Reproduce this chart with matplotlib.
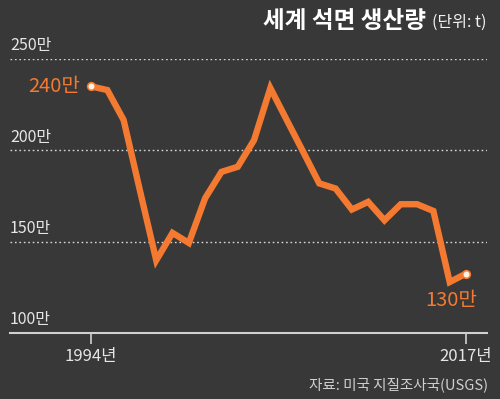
import matplotlib.pyplot as plt

# world asbestos production, unit: 10,000 t (만 t)
years = list(range(1994, 2018))
production = [235, 233, 216.6, 178, 139.8, 154.8, 149.3, 173.8, 188.2, 191,
              205.6, 234.1, 216.7, 199.4, 181.9, 179.1, 167.6, 171.8, 161.7,
              170.5, 170.5, 166.8, 127.9, 132.5]
y_ticks = [100, 150, 200, 250]
y_tick_labels = ["100만", "150만", "200만", "250만"]
x_ticks = [1994, 2017]
x_tick_labels = ["1994년", "2017년"]
start_label = "240만"
end_label = "130만"

bg = "#383838"
orange = "#f37a30"
light = "#e6e6e6"

plt.rcParams['font.family'] = ['Noto Sans CJK KR', 'DejaVu Sans']

fig = plt.figure(figsize=(5, 3.99), dpi=100, facecolor=bg)
ax = fig.add_axes([0.02, 1 - 333 / 399, 0.954, (333 - 59) / 399])
ax.set_facecolor(bg)

ax.set_xlim(1994 - 81 / 16.3, 2017 + 21 / 16.3)
ax.set_ylim(100, 250)

# dotted gridlines (not at the bottom, that one is the solid axis)
for v in y_ticks[1:]:
    ax.axhline(v, color="#d8d8d8", lw=1.0, ls=(0, (1.2, 2)), zorder=1)

for v, lab in zip(y_ticks, y_tick_labels):
    ax.text(0.0, v + 2.5, lab, transform=ax.get_yaxis_transform(),
            ha="left", va="bottom", color=light, fontsize=11.5, weight="light")

ax.plot(years, production, color=orange, lw=4.6, solid_joinstyle="miter",
        solid_capstyle="round", zorder=3, clip_on=False)
ax.plot([years[0], years[-1]], [production[0], production[-1]], "o",
        ms=5.5, mfc="#fff2e6", mec=orange, mew=1.2, zorder=4, clip_on=False)

ax.text(years[0] - 0.7, production[0], start_label, ha="right", va="center",
        color=orange, fontsize=14.5)
ax.text(years[-1] - 0.9, production[-1] - 9, end_label, ha="center", va="top",
        color=orange, fontsize=14.5)

for s in ["top", "right", "left"]:
    ax.spines[s].set_visible(False)
ax.spines["bottom"].set_color("#d0d0d0")
ax.spines["bottom"].set_linewidth(1.5)
ax.set_yticks([])
ax.set_xticks(x_ticks)
ax.set_xticklabels(x_tick_labels, fontsize=12, color=light)
ax.tick_params(axis="x", direction="out", length=8, width=1.2, color="#d0d0d0", pad=3)

fig.text(0.852, 1 - 21 / 399, "세계 석면 생산량", ha="right", va="center",
         color="white", fontsize=17, weight="bold")
fig.text(0.864, 1 - 22 / 399, "(단위: t)", ha="left", va="center",
         color="#f2f2f2", fontsize=11.5)
fig.text(0.976, 1 - 385 / 399, "자료: 미국 지질조사국(USGS)", ha="right", va="center",
         color="#cfcfcf", fontsize=10.5)

fig.savefig("out.png", dpi=100, facecolor=bg)
